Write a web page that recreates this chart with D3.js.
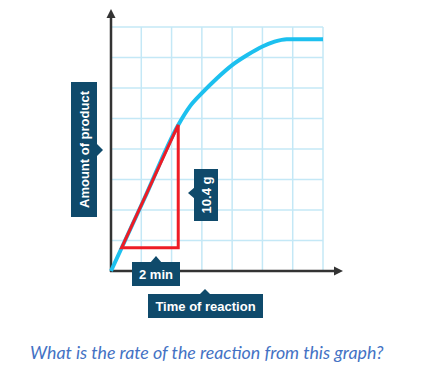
<!DOCTYPE html>
<html>
<head>
<meta charset="utf-8">
<script src="https://cdn.jsdelivr.net/npm/d3@7"></script>
<style>
  body { margin: 0; background: #fff; }
  svg { display: block; }
  .lbl { font-family: "Liberation Sans", Arial, sans-serif; font-weight: bold; font-size: 13px; fill: #fff; }
  .question { font-family: Lato, sans-serif; font-style: italic; font-size: 17.8px; fill: #4472c4; }
</style>
</head>
<body>
<svg width="445" height="374"></svg>
<script>
'use strict';

// product curve, in grid units (time, amount)
const curveTime   = [0, 1.1, 2.22, 2.6, 3, 3.5, 4, 4.5, 5, 5.4, 5.8, 7];
const curveAmount = [0, 2.37, 4.79, 5.39, 5.83, 6.32, 6.75, 7.08, 7.36, 7.52, 7.6, 7.6];

// tangent triangle corners (grid units)
const triTime   = [0.35, 2.22];
const triAmount = [0.76, 4.79];

const gridCols = 7, gridRows = 8;
const labels = ["Amount of product", "10.4 g", "2 min", "Time of reaction"];
const question = "What is the rate of the reaction from this graph?";

const svg = d3.select("svg");
const x = d3.scaleLinear().domain([0, gridCols]).range([111, 323]);
const y = d3.scaleLinear().domain([0, gridRows]).range([271, 27]);

// grid
const grid = svg.append("g").attr("stroke", "#c4e8f6").attr("stroke-width", 1.5);
grid.selectAll(".gv").data(d3.range(1, gridCols + 1)).enter().append("line")
	.attr("x1", d => x(d)).attr("x2", d => x(d))
	.attr("y1", y(0)).attr("y2", y(gridRows));
grid.selectAll(".gh").data(d3.range(1, gridRows + 1)).enter().append("line")
	.attr("x1", x(0)).attr("x2", x(gridCols))
	.attr("y1", d => y(d)).attr("y2", d => y(d));

// axes with arrows
const axisCol = "#333";
svg.append("line").attr("x1", x(0)).attr("y1", y(0) + 1).attr("x2", x(0)).attr("y2", 14)
	.attr("stroke", axisCol).attr("stroke-width", 2.5);
svg.append("path").attr("d", `M${x(0) - 4.5},18 L${x(0)},9 L${x(0) + 4.5},18 Z`).attr("fill", axisCol);
svg.append("line").attr("x1", x(0) - 1).attr("y1", y(0)).attr("x2", 338).attr("y2", y(0))
	.attr("stroke", axisCol).attr("stroke-width", 2.5);
svg.append("path").attr("d", `M334,${y(0) - 4.5} L343,${y(0)} L334,${y(0) + 4.5} Z`).attr("fill", axisCol);

// product curve
const pts = curveTime.map((t, i) => [t, curveAmount[i]]);
svg.append("path")
	.datum(pts)
	.attr("fill", "none")
	.attr("stroke", "#1cc0ef")
	.attr("stroke-width", 4)
	.attr("d", d3.line().x(d => x(d[0])).y(d => y(d[1])).curve(d3.curveMonotoneX));

// tangent triangle
svg.append("path")
	.attr("fill", "none")
	.attr("stroke", "#ee1c25")
	.attr("stroke-width", 3)
	.attr("stroke-linejoin", "miter")
	.attr("d", `M${x(triTime[0])},${y(triAmount[0])} L${x(triTime[1])},${y(triAmount[0])} L${x(triTime[1])},${y(triAmount[1])} Z`);

// callout boxes
const navy = "#0f4a6b";
function box(x0, y0, w, h, ptr) {
	svg.append("rect").attr("x", x0).attr("y", y0).attr("width", w).attr("height", h).attr("fill", navy);
	svg.append("path").attr("d", ptr).attr("fill", navy);
}

// Amount of product (vertical, pointer right)
box(71, 82, 26, 135, "M96,143 L103,150 L96,157 Z");
svg.append("text").attr("class", "lbl").attr("text-anchor", "middle")
	.attr("transform", "translate(88.5,149.5) rotate(-90)").text(labels[0]);

// 10.4 g (vertical, pointer left)
box(194, 169, 24, 52, "M195,187 L188,193 L195,199 Z");
svg.append("text").attr("class", "lbl").attr("text-anchor", "middle")
	.attr("transform", "translate(210.5,195) rotate(-90)").text(labels[1]);

// 2 min (pointer up)
box(132, 262, 48, 24, "M150,263 L156,256 L162,263 Z");
svg.append("text").attr("class", "lbl").attr("text-anchor", "middle")
	.attr("x", 156).attr("y", 278.5).text(labels[2]);

// Time of reaction (pointer up)
box(148, 294, 115, 24, "M199,295 L205,289 L211,295 Z");
svg.append("text").attr("class", "lbl").attr("text-anchor", "middle")
	.attr("x", 205.5).attr("y", 310.5).text(labels[3]);

// question
svg.append("text").attr("class", "question").attr("x", 30).attr("y", 359).text(question);
</script>
</body>
</html>
